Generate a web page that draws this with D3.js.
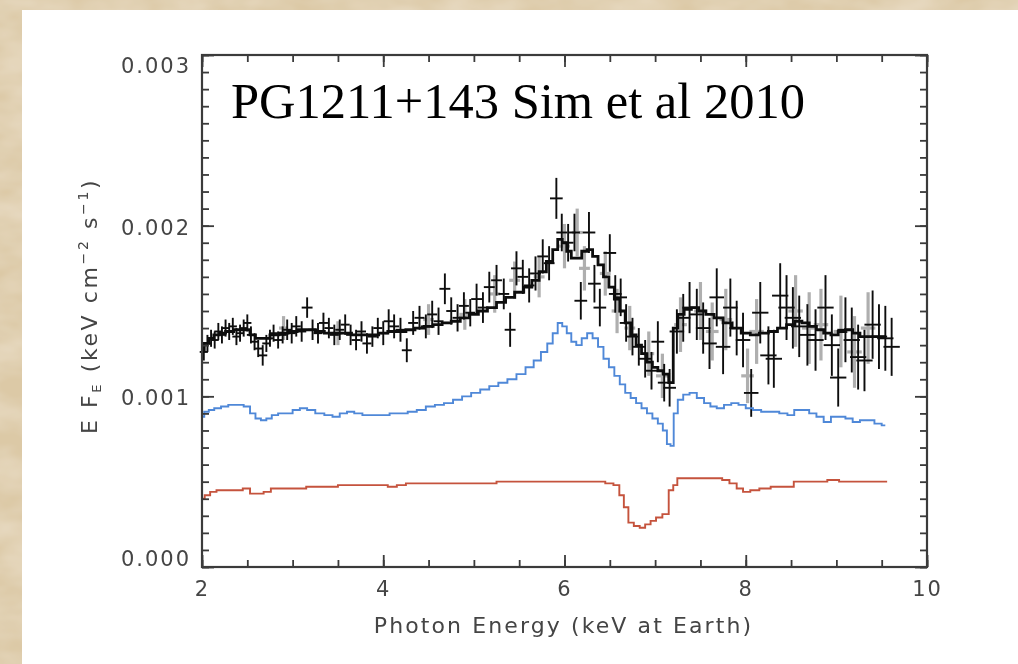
<!DOCTYPE html>
<html>
<head>
<meta charset="utf-8">
<script src="https://cdn.jsdelivr.net/npm/d3@7"></script>
<style>
  html, body { margin: 0; padding: 0; background: #e0cfae; }
  svg { display: block; }
</style>
</head>
<body>
<svg id="chart" width="1018" height="664"></svg>
<script>
// Axis ranges and labels
const energyDomain = [2, 10];
const fluxDomain = [0, 0.003];
const xMajorTicks = [2, 4, 6, 8, 10];
const xMinorTicks = d3.range(2, 10.001, 0.5);
const yMajorTicks = [0, 0.001, 0.002, 0.003];
const yMinorTicks = d3.range(0, 0.00301, 0.0001);
const yTickLabels = ["0.000", "0.001", "0.002", "0.003"];
const yLabelNudge = [-9, 1, 2, 10];
const titleText = "PG1211+143 Sim et al 2010";

// Observed spectrum: [energy keV, E F_E, half bin width, 1-sigma error]
const pnPoints = [
  [2.02,0.00126,0.045,0.00005],[2.06,0.00131,0.045,0.00005],[2.10,0.00134,0.045,0.00005],
  [2.14,0.00133,0.045,0.00005],[2.18,0.00138,0.045,0.00005],[2.22,0.00136,0.045,0.00005],
  [2.26,0.00140,0.045,0.00005],[2.30,0.00138,0.045,0.00005],[2.34,0.00141,0.045,0.00005],
  [2.38,0.00135,0.045,0.00005],[2.42,0.00137,0.045,0.00005],[2.46,0.00140,0.045,0.00005],
  [2.50,0.00143,0.045,0.00005],[2.54,0.00136,0.045,0.00005],[2.58,0.00132,0.045,0.00005],
  [2.62,0.00128,0.045,0.00005],[2.67,0.00124,0.05,0.00006],[2.71,0.00131,0.045,0.00005],
  [2.75,0.00134,0.045,0.00005],[2.79,0.00137,0.045,0.00005],[2.84,0.00133,0.045,0.00005],
  [2.89,0.00136,0.045,0.00005],[2.94,0.00139,0.045,0.00006],[2.99,0.00137,0.045,0.00006],
  [3.04,0.00141,0.05,0.00006],[3.10,0.00138,0.05,0.00006],[3.16,0.00152,0.06,0.00006],
  [3.22,0.00139,0.05,0.00006],[3.28,0.00137,0.05,0.00006],[3.34,0.00143,0.05,0.00006],
  [3.40,0.00140,0.05,0.00006],[3.46,0.00136,0.05,0.00006],[3.52,0.00139,0.05,0.00006],
  [3.58,0.00142,0.05,0.00006],[3.64,0.00136,0.05,0.00006],[3.70,0.00133,0.05,0.00006],
  [3.76,0.00138,0.05,0.00006],[3.82,0.00131,0.05,0.00006],[3.88,0.00135,0.05,0.00006],
  [3.94,0.00140,0.05,0.00006],[4.00,0.00137,0.055,0.00007],[4.06,0.00144,0.055,0.00007],
  [4.12,0.00141,0.055,0.00007],[4.19,0.00139,0.055,0.00007],[4.26,0.00127,0.055,0.00007],
  [4.33,0.00143,0.055,0.00007],[4.40,0.00146,0.055,0.00007],[4.47,0.00141,0.055,0.00007],
  [4.54,0.00148,0.055,0.00008],[4.61,0.00144,0.055,0.00008],[4.68,0.00163,0.06,0.00009],
  [4.75,0.00150,0.055,0.00008],[4.82,0.00146,0.055,0.00008],[4.89,0.00153,0.055,0.00008],
  [4.96,0.00149,0.055,0.00008],[5.03,0.00157,0.06,0.00009],[5.10,0.00152,0.06,0.00009],
  [5.17,0.00164,0.06,0.00009],[5.25,0.00168,0.06,0.00009],[5.33,0.00160,0.06,0.00009],
  [5.40,0.00139,0.06,0.0001],[5.47,0.00175,0.06,0.0001],[5.54,0.00170,0.06,0.0001],
  [5.61,0.00165,0.06,0.0001],[5.68,0.00172,0.06,0.0001],[5.76,0.00182,0.06,0.0001],
  [5.83,0.00178,0.06,0.0001],[5.91,0.00216,0.07,0.00012],[5.97,0.00196,0.06,0.00011],
  [6.04,0.00190,0.06,0.00011],[6.11,0.00196,0.06,0.00011],[6.18,0.00156,0.07,0.00011],
  [6.27,0.00196,0.07,0.00012],[6.33,0.00166,0.07,0.00011],[6.39,0.00152,0.07,0.00011],
  [6.50,0.00184,0.07,0.00011],[6.56,0.00160,0.07,0.00011],[6.62,0.00158,0.07,0.00011],
  [6.68,0.00143,0.07,0.00011],[6.75,0.00135,0.07,0.00011],[6.82,0.00129,0.07,0.00011],
  [6.89,0.00122,0.07,0.00011],[6.96,0.00115,0.07,0.00011],[7.03,0.00132,0.07,0.00012],
  [7.10,0.00108,0.07,0.00011],[7.16,0.00105,0.07,0.00011],[7.24,0.00138,0.08,0.00013],
  [7.31,0.00146,0.08,0.00014],[7.38,0.00152,0.08,0.00015],[7.46,0.00148,0.08,0.00015],
  [7.53,0.00140,0.08,0.00015],[7.60,0.00131,0.08,0.00015],[7.68,0.00158,0.08,0.00017],
  [7.75,0.00129,0.08,0.00016],[7.83,0.00152,0.08,0.00017],[7.90,0.00140,0.08,0.00016],
  [7.97,0.00133,0.08,0.00016],[8.06,0.00102,0.08,0.00014],[8.16,0.00149,0.09,0.00018],
  [8.25,0.00124,0.09,0.00017],[8.31,0.00122,0.09,0.00017],[8.38,0.00159,0.09,0.00019],
  [8.45,0.00152,0.09,0.00019],[8.52,0.00146,0.09,0.00018],[8.59,0.00141,0.09,0.00018],
  [8.68,0.00136,0.09,0.00018],[8.77,0.00133,0.09,0.00018],[8.88,0.00152,0.09,0.00019],
  [8.95,0.00130,0.09,0.00018],[9.02,0.00111,0.09,0.00017],[9.10,0.00139,0.09,0.00019],
  [9.17,0.00133,0.09,0.00019],[9.24,0.00123,0.09,0.00019],[9.31,0.00121,0.09,0.00018],
  [9.40,0.00142,0.09,0.0002],[9.47,0.00135,0.09,0.00019],[9.54,0.00134,0.09,0.00019],
  [9.61,0.00129,0.09,0.00017]
];

// Second detector, drawn as grey bars beneath
const mosPoints = [
  [2.90,0.00140,0.05,0.00007],[3.50,0.00137,0.05,0.00007],[4.50,0.00145,0.06,0.00009],
  [4.90,0.00148,0.06,0.00009],[5.23,0.00160,0.06,0.00011],[5.45,0.00168,0.06,0.00011],
  [5.72,0.00170,0.06,0.00012],[6.00,0.00188,0.06,0.00013],[6.14,0.00196,0.06,0.00014],
  [6.22,0.00175,0.06,0.00013],[6.45,0.00172,0.06,0.00013],[6.58,0.00150,0.06,0.00013],
  [6.72,0.00140,0.06,0.00013],[6.93,0.00125,0.06,0.00013],[7.08,0.00112,0.07,0.00013],
  [7.28,0.00142,0.07,0.00016],[7.50,0.00150,0.07,0.00017],[7.63,0.00138,0.07,0.00017],
  [7.78,0.00145,0.07,0.00018],[8.02,0.00112,0.07,0.00016],[8.12,0.00138,0.08,0.00019],
  [8.55,0.00150,0.08,0.00021],[8.70,0.00140,0.08,0.00021],[8.83,0.00142,0.08,0.00021],
  [9.05,0.00138,0.08,0.00021],[9.20,0.00126,0.08,0.00021],[9.35,0.00140,0.08,0.00021]
];

// Total model, folded through the response
const modelTotal = [
  [2.00,0.00127],[2.05,0.00131],[2.10,0.00134],[2.16,0.00136],[2.22,0.00137],[2.30,0.00138],
  [2.40,0.00139],[2.50,0.00139],[2.56,0.00136],[2.62,0.00134],[2.70,0.00134],[2.80,0.00136],
  [2.90,0.00137],[3.00,0.00138],[3.10,0.00139],[3.20,0.00139],[3.30,0.00138],[3.40,0.00137],
  [3.50,0.00137],[3.60,0.00137],[3.70,0.00136],[3.80,0.00136],[3.90,0.00136],[4.00,0.00137],
  [4.10,0.00138],[4.20,0.00138],[4.30,0.00139],[4.40,0.00140],[4.50,0.00141],[4.60,0.00142],
  [4.70,0.00143],[4.80,0.00144],[4.90,0.00146],[5.00,0.00148],[5.10,0.00150],[5.20,0.00152],
  [5.30,0.00155],[5.40,0.00158],[5.50,0.00161],[5.60,0.00164],[5.68,0.00168],[5.76,0.00173],
  [5.84,0.00179],[5.90,0.00186],[5.95,0.00192],[6.00,0.00190],[6.05,0.00185],[6.10,0.00181],
  [6.16,0.00181],[6.22,0.00185],[6.28,0.00186],[6.34,0.00182],[6.40,0.00177],[6.46,0.00170],
  [6.52,0.00164],[6.58,0.00157],[6.64,0.00150],[6.70,0.00143],[6.76,0.00136],[6.82,0.00130],
  [6.88,0.00125],[6.94,0.00120],[7.00,0.00117],[7.06,0.00115],[7.12,0.00113],[7.18,0.00108],
  [7.22,0.00140],[7.28,0.00148],[7.36,0.00151],[7.44,0.00152],[7.52,0.00150],[7.60,0.00148],
  [7.70,0.00146],[7.80,0.00143],[7.90,0.00140],[8.00,0.00137],[8.10,0.00136],[8.20,0.00137],
  [8.30,0.00138],[8.40,0.00140],[8.50,0.00142],[8.58,0.00144],[8.66,0.00143],[8.74,0.00141],
  [8.82,0.00139],[8.90,0.00137],[8.98,0.00136],[9.06,0.00138],[9.14,0.00139],[9.22,0.00137],
  [9.30,0.00135],[9.40,0.00135],[9.54,0.00135]
];

// Wind emission component
const modelEmission = [
  [2.00,0.00088],[2.05,0.00091],[2.10,0.00092],[2.17,0.00093],[2.25,0.00094],[2.33,0.00095],
  [2.42,0.00095],[2.50,0.00094],[2.56,0.00090],[2.62,0.00087],[2.68,0.00086],[2.74,0.00087],
  [2.80,0.00089],[2.88,0.00090],[2.96,0.00090],[3.04,0.00092],[3.12,0.00093],[3.20,0.00092],
  [3.30,0.00090],[3.40,0.00089],[3.48,0.00088],[3.56,0.00090],[3.64,0.00091],[3.72,0.00090],
  [3.82,0.00089],[3.92,0.00089],[4.02,0.00089],[4.12,0.00090],[4.22,0.00090],[4.32,0.00091],
  [4.42,0.00092],[4.52,0.00094],[4.62,0.00095],[4.72,0.00096],[4.82,0.00098],[4.92,0.00100],
  [5.02,0.00102],[5.12,0.00104],[5.22,0.00106],[5.32,0.00108],[5.42,0.00110],[5.52,0.00113],
  [5.62,0.00117],[5.70,0.00121],[5.78,0.00126],[5.84,0.00131],[5.90,0.00137],[5.95,0.00143],
  [6.00,0.00141],[6.05,0.00137],[6.10,0.00132],[6.16,0.00130],[6.22,0.00134],[6.28,0.00137],
  [6.34,0.00134],[6.40,0.00129],[6.46,0.00122],[6.52,0.00117],[6.58,0.00112],[6.64,0.00107],
  [6.70,0.00102],[6.76,0.00099],[6.82,0.00096],[6.88,0.00093],[6.94,0.00090],[7.00,0.00087],
  [7.06,0.00084],[7.11,0.00080],[7.15,0.00072],[7.19,0.00071],[7.22,0.00090],[7.28,0.00098],
  [7.34,0.00101],[7.42,0.00102],[7.50,0.00099],[7.58,0.00096],[7.64,0.00094],[7.72,0.00093],
  [7.80,0.00095],[7.88,0.00096],[7.96,0.00095],[8.04,0.00093],[8.12,0.00092],[8.22,0.00091],
  [8.32,0.00091],[8.42,0.00090],[8.50,0.00089],[8.57,0.00092],[8.66,0.00092],[8.74,0.00090],
  [8.82,0.00088],[8.90,0.00085],[8.98,0.00088],[9.06,0.00088],[9.14,0.00087],[9.22,0.00085],
  [9.30,0.00086],[9.38,0.00086],[9.46,0.00084],[9.54,0.00083]
];

// Transmitted (absorbed) component
const modelTransmitted = [
  [2.00,0.00040],[2.06,0.00042],[2.12,0.00044],[2.20,0.00045],[2.30,0.00045],[2.40,0.00045],
  [2.50,0.00046],[2.56,0.00043],[2.64,0.00043],[2.72,0.00044],[2.80,0.00046],[2.90,0.00046],
  [3.00,0.00046],[3.10,0.00046],[3.20,0.00047],[3.40,0.00047],[3.60,0.00048],[3.80,0.00048],
  [4.00,0.00048],[4.10,0.00047],[4.20,0.00048],[4.30,0.00049],[4.60,0.00049],[5.00,0.00049],
  [5.50,0.00050],[6.00,0.00050],[6.40,0.00050],[6.50,0.00049],[6.58,0.00048],[6.63,0.00042],
  [6.68,0.00035],[6.73,0.00026],[6.80,0.00024],[6.86,0.00023],[6.92,0.00025],[6.98,0.00027],
  [7.04,0.00029],[7.12,0.00031],[7.18,0.00045],[7.22,0.00048],[7.27,0.00052],[7.50,0.00052],
  [7.70,0.00052],[7.78,0.00051],[7.86,0.00049],[7.94,0.00046],[8.00,0.00044],[8.10,0.00045],
  [8.20,0.00046],[8.35,0.00047],[8.50,0.00047],[8.56,0.00050],[8.80,0.00050],[9.00,0.00051],
  [9.06,0.00050],[9.30,0.00050],[9.56,0.00050]
];

const svg = d3.select("#chart");
const W = 1018, H = 664;
const plot = { left: 202, right: 927, top: 55, bottom: 567 };

const defs = svg.append("defs");
// Soft mottled paper texture for the surround
const tex = defs.append("filter").attr("id", "paper").attr("x", 0).attr("y", 0).attr("width", 1).attr("height", 1);
tex.append("feTurbulence").attr("type", "fractalNoise").attr("baseFrequency", "0.018 0.035")
  .attr("numOctaves", 3).attr("seed", 7).attr("result", "n");
tex.append("feColorMatrix").attr("in", "n").attr("type", "matrix")
  .attr("values", "0 0 0 0 0.92  0 0 0 0 0.86  0 0 0 0 0.75  0.7 0 0 0 -0.2").attr("result", "c");
tex.append("feComposite").attr("in", "c").attr("in2", "SourceGraphic").attr("operator", "atop");

const soft = defs.append("filter").attr("id", "soft");
soft.append("feGaussianBlur").attr("stdDeviation", 0.55);

svg.append("rect").attr("width", W).attr("height", H).attr("fill", "#dcc9a6").attr("filter", "url(#paper)");
svg.append("rect").attr("x", 22).attr("y", 10).attr("width", W - 22).attr("height", H - 10).attr("fill", "#ffffff");

const x = d3.scaleLinear().domain(energyDomain).range([plot.left, plot.right]);
const y = d3.scaleLinear().domain(fluxDomain).range([plot.bottom, plot.top]);

const g = svg.append("g").attr("filter", "url(#soft)");

// Error-bar crosses
function crosses(sel, data, cls) {
  const c = sel.append("g").attr("class", cls).selectAll("g").data(data).join("g");
  c.append("line")
    .attr("x1", d => x(d[0] - d[2])).attr("x2", d => x(d[0] + d[2]))
    .attr("y1", d => y(d[1])).attr("y2", d => y(d[1]));
  c.append("line")
    .attr("x1", d => x(d[0])).attr("x2", d => x(d[0]))
    .attr("y1", d => y(d[1] - d[3])).attr("y2", d => y(d[1] + d[3]));
  return c;
}

crosses(g, mosPoints, "mos").attr("stroke", "#959595").attr("stroke-width", 3.2).attr("opacity", 0.75);
crosses(g, pnPoints, "pn").attr("stroke", "#0d0d0d").attr("stroke-width", 1.9);

const step = d3.line().x(d => x(d[0])).y(d => y(d[1])).curve(d3.curveStep);

g.append("path").datum(modelTransmitted).attr("d", step)
  .attr("fill", "none").attr("stroke", "#c5533c").attr("stroke-width", 1.9);
g.append("path").datum(modelEmission).attr("d", step)
  .attr("fill", "none").attr("stroke", "#4f88d8").attr("stroke-width", 1.9);
g.append("path").datum(modelTotal).attr("d", step)
  .attr("fill", "none").attr("stroke", "#0d0d0d").attr("stroke-width", 2.8);

// Frame with inward ticks on every side
const axisColor = "#3a3a3a";
function styleAxis(a) {
  a.select(".domain").remove();
  a.selectAll("line").attr("stroke", axisColor).attr("stroke-width", 1.8);
}
const majLen = 12, minLen = 7;
const axes = svg.append("g").attr("filter", "url(#soft)");

[[d3.axisBottom, plot.bottom], [d3.axisTop, plot.top]].forEach(([fn, pos]) => {
  axes.append("g").attr("transform", `translate(0,${pos})`)
    .call(fn(x).tickValues(xMinorTicks).tickSize(-minLen).tickFormat("")).call(styleAxis);
  axes.append("g").attr("transform", `translate(0,${pos})`)
    .call(fn(x).tickValues(xMajorTicks).tickSize(-majLen).tickFormat("")).call(styleAxis);
});
[[d3.axisLeft, plot.left], [d3.axisRight, plot.right]].forEach(([fn, pos]) => {
  axes.append("g").attr("transform", `translate(${pos},0)`)
    .call(fn(y).tickValues(yMinorTicks).tickSize(-minLen).tickFormat("")).call(styleAxis);
  axes.append("g").attr("transform", `translate(${pos},0)`)
    .call(fn(y).tickValues(yMajorTicks).tickSize(-majLen).tickFormat("")).call(styleAxis);
});
axes.append("rect")
  .attr("x", plot.left).attr("y", plot.top)
  .attr("width", plot.right - plot.left).attr("height", plot.bottom - plot.top)
  .attr("fill", "none").attr("stroke", axisColor).attr("stroke-width", 2.2);

// Tick labels
const labelFont = "'DejaVu Sans', sans-serif";
const labelColor = "#444";
const xl = axes.append("g").attr("transform", `translate(0,${plot.bottom + 8})`)
  .call(d3.axisBottom(x).tickValues(xMajorTicks).tickSize(0).tickFormat(d3.format("d")));
xl.select(".domain").remove();
xl.selectAll("text").attr("font-family", labelFont).attr("font-size", 21).attr("fill", labelColor)
  .attr("letter-spacing", 2).attr("dy", "0.85em");

const yl = axes.append("g").attr("transform", `translate(${plot.left - 8},0)`)
  .call(d3.axisLeft(y).tickValues(yMajorTicks).tickSize(0).tickFormat((d, i) => yTickLabels[i]));
yl.select(".domain").remove();
yl.selectAll("text").attr("font-family", labelFont).attr("font-size", 21).attr("fill", labelColor)
  .attr("letter-spacing", 2)
  .attr("dy", (d, i) => (7 + yLabelNudge[i]) + "px");

// Axis titles
axes.append("text")
  .attr("x", (plot.left + plot.right) / 2 - 1).attr("y", 633)
  .attr("text-anchor", "middle").attr("font-family", labelFont).attr("font-size", 22)
  .attr("letter-spacing", 2.1).attr("fill", labelColor)
  .text("Photon Energy (keV at Earth)");

const yt = axes.append("text")
  .attr("transform", "translate(97,306) rotate(-90)")
  .attr("text-anchor", "middle").attr("font-family", labelFont).attr("font-size", 22)
  .attr("letter-spacing", 2.6).attr("fill", labelColor);
yt.append("tspan").text("E F");
yt.append("tspan").attr("font-size", 13).attr("dy", 4).text("E");
yt.append("tspan").attr("dy", -4).text(" (keV cm");
yt.append("tspan").attr("font-size", 14).attr("dy", -9).text("−2");
yt.append("tspan").attr("dy", 9).text(" s");
yt.append("tspan").attr("font-size", 14).attr("dy", -9).text("−1");
yt.append("tspan").attr("dy", 9).text(")");

// Caption inside the frame
svg.append("text")
  .attr("x", 231).attr("y", 118)
  .attr("font-family", "'Liberation Serif', 'Times New Roman', serif")
  .attr("font-size", 51).attr("fill", "#000")
  .attr("textLength", 574).attr("lengthAdjust", "spacingAndGlyphs")
  .text(titleText);
</script>
</body>
</html>
